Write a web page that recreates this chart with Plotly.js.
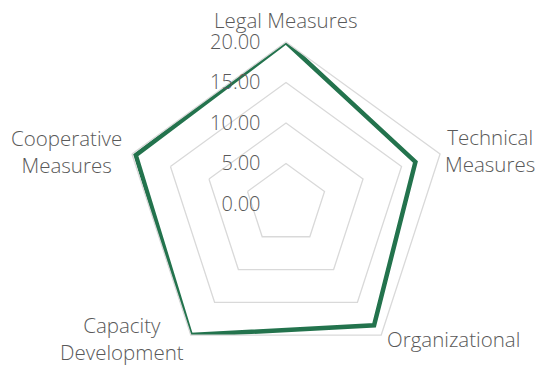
<!DOCTYPE html>
<html>
<head>
<meta charset="utf-8">
<script src="https://cdn.plot.ly/plotly-3.0.1.min.js"></script>
<style>
  html, body { margin: 0; padding: 0; background: #fff; }
  #chart { width: 537px; height: 367px; }
</style>
</head>
<body>
<div id="chart"></div>
<script>
// categories and scores
const categories = ['Legal Measures', 'Technical Measures', 'Organizational', 'Capacity Development', 'Cooperative Measures'];
const categoryLabels = ['Legal Measures', 'Technical<br>Measures', 'Organizational', 'Capacity<br>Development', 'Cooperative<br>Measures'];
const scores = [20, 16.8, 18.5, 20, 19.5];
const radialTicks = [0, 5, 10, 15, 20];

const gray = '#595959';
const fontFamily = '"Open Sans", sans-serif';

// where each category name sits around the web (paper coords, px from top-left)
const labelSpots = [
    { x: 286, y: 20 },
    { x: 490, y: 150 },
    { x: 453, y: 339 },
    { x: 122, y: 338 },
    { x: 66, y: 151 }
];

const trace = {
    type: 'scatterpolar',
    mode: 'lines',
    r: scores.concat(scores[0]),
    theta: categories.concat(categories[0]),
    line: { color: '#23734d', width: 4.5 },
    hoverinfo: 'skip'
};

const layout = {
    width: 537,
    height: 367,
    margin: { l: 0, r: 0, t: 0, b: 0 },
    paper_bgcolor: '#fff',
    font: { family: fontFamily, color: gray, size: 18 },
    showlegend: false,
    polar: {
        domain: { x: [124 / 537, 448 / 537], y: [1 - 366 / 367, 1 - 42 / 367] },
        gridshape: 'linear',
        bgcolor: 'rgba(0,0,0,0)',
        radialaxis: {
            range: [0, 20],
            tickvals: radialTicks,
            tickformat: '.2f',
            angle: 90,
            tickangle: 90,
            side: 'counterclockwise',
            showline: false,
            ticks: 'outside',
            ticklen: 18,
            tickcolor: 'rgba(0,0,0,0)',
            gridcolor: '#d9d9d9',
            gridwidth: 1.3,
            tickfont: { family: fontFamily, size: 20, color: gray, weight: 300 }
        },
        angularaxis: {
            type: 'category',
            categoryarray: categories,
            rotation: 90,
            direction: 'clockwise',
            showgrid: false,
            showline: true,
            linecolor: '#d9d9d9',
            linewidth: 1.3,
            ticks: '',
            showticklabels: false
        }
    },
    annotations: categoryLabels.map((txt, i) => ({
        text: txt,
        xref: 'paper', yref: 'paper',
        x: labelSpots[i].x / 537,
        y: 1 - labelSpots[i].y / 367,
        xanchor: 'center', yanchor: 'middle',
        showarrow: false,
        font: { family: fontFamily, size: 20.5, color: gray, weight: 300 }
    }))
};

Plotly.newPlot('chart', [trace], layout, { displayModeBar: false, staticPlot: true });
</script>
</body>
</html>
